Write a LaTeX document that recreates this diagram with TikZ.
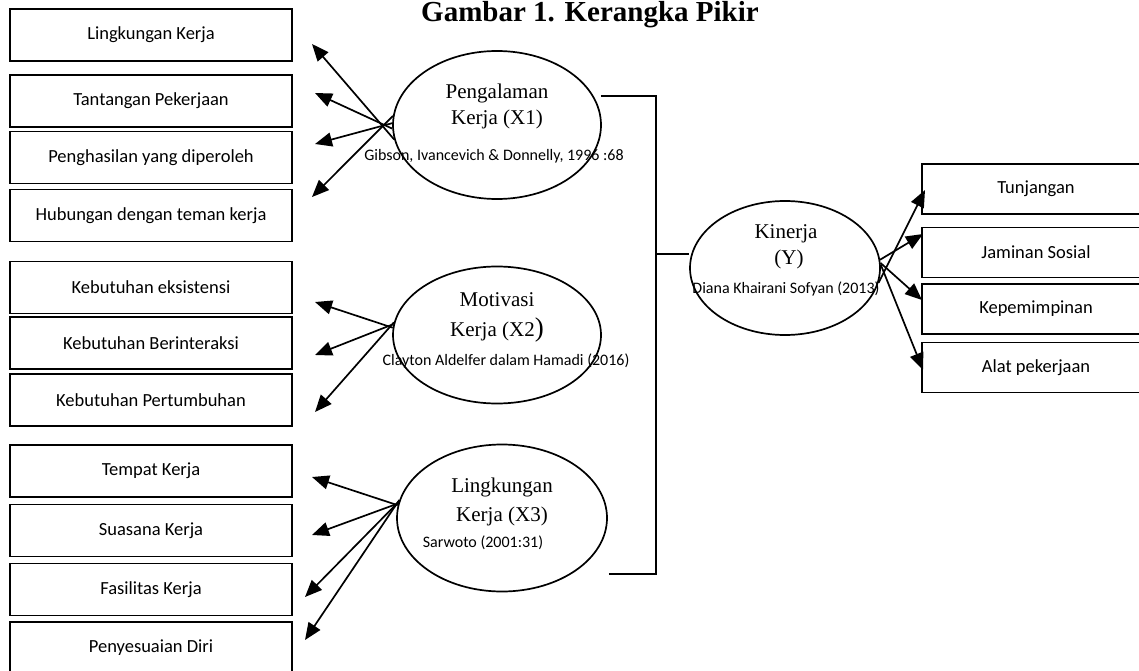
\documentclass[tikz,border=0pt]{standalone}
\usepackage{fontspec}
\setmainfont{Liberation Serif}
\newfontfamily\calibri{Carlito}
\usetikzlibrary{arrows.meta,shapes,calc}

\begin{document}
\begin{tikzpicture}[x=1pt,y=-1pt]
            \tikzset{box/.style = {draw, line width=1.6pt, minimum width=282pt, minimum height=52pt, inner sep=0pt, font=\calibri\fontsize{18.5}{20}\selectfont}}
            \tikzset{rbox/.style = {box, minimum width=228pt, minimum height=50pt}}
            \tikzset{latent/.style = {draw, ellipse, line width=1.7pt, inner sep=0pt}}
            \tikzset{konsep/.style = {font=\fontsize{21}{23}\selectfont, inner sep=0pt}}
            \tikzset{sumber/.style = {font=\calibri\fontsize{16}{18}\selectfont, inner sep=0pt}}
            \tikzset{edge/.style = {line width=1.7pt, -{Triangle[length=17pt,width=14pt]}}}
            \tikzset{garis/.style = {line width=1.7pt}}
            \useasboundingbox (0,0) rectangle (1139,671);

            % title
            \node[font=\bfseries\fontsize{29}{29}\selectfont, anchor=base] (judul) at (590,22) {Gambar 1. Kerangka Pikir};

            % indicator boxes
            \foreach \y/\txt [count=\i] in {35/Lingkungan Kerja, 101/Tantangan Pekerjaan, 157.5/Penghasilan yang diperoleh, 215.5/Hubungan dengan teman kerja, 287.5/Kebutuhan eksistensi, 343/Kebutuhan Berinteraksi, 400/Kebutuhan Pertumbuhan, 471/Tempat Kerja, 530.5/Suasana Kerja, 589.5/Fasilitas Kerja, 648/Penyesuaian Diri}
            {
              \node[box] (b\i) at (151,\y) {\txt};
            }
            \foreach \y/\txt [count=\i] in {189/Tunjangan, 252.5/Jaminan Sosial, 309/Kepemimpinan, 367.5/Alat pekerjaan}
            {
              \node[rbox] (r\i) at (1036,\y) {\txt};
            }

            % variables
            \node[latent, minimum width=208pt, minimum height=148pt] (x1) at (497,125) {};
            \node[latent, minimum width=208pt, minimum height=137pt] (x2) at (497,335) {};
            \node[latent, minimum width=210pt, minimum height=147pt] (x3) at (502,518) {};
            \node[latent, minimum width=190pt, minimum height=134pt] (y) at (785,268) {};

            \node[konsep] (x1a) at (497,93) {Pengalaman};
            \node[konsep] (x1b) at (497,119) {Kerja (X1)};
            \node[sumber] (x1c) at (494,156) {Gibson, Ivancevich \& Donnelly, 1996 :68};
            \node[konsep] (x2a) at (497,300) {Motivasi};
            \node[konsep] (x2b) at (497,330) {Kerja (X2{\fontsize{27}{27}\selectfont )}};
            \node[sumber] (x2c) at (506,361) {Clayton Aldelfer dalam Hamadi (2016)};
            \node[konsep] (x3a) at (502,487) {Lingkungan};
            \node[konsep] (x3b) at (502,516) {Kerja (X3)};
            \node[sumber] (x3c) at (483,543) {Sarwoto (2001:31)};
            \node[konsep] (ya) at (786,234) {Kinerja};
            \node[konsep] (yb) at (789,259) {(Y)};
            \node[sumber] (yc) at (786,289) {Diana Khairani Sofyan (2013)};

            % arrow tips
            \foreach \x/\y [count=\i] in {312/44, 315/93, 315/144, 312/197, 315/302, 315/355, 315/412, 312/477, 312/535, 305/597, 305/640}
            {
              \coordinate (t\i) at (\x,\y);
            }
            \foreach \x/\y [count=\i] in {925/190, 923/234, 922/300, 923/370}
            {
              \coordinate (s\i) at (\x,\y);
            }

            % edges
            \foreach \a/\t in {188/1, 182/2, 179/3, 175/4} {\draw[edge] (x1.\a) to (t\t);}
            \foreach \a/\t in {176/5, 174/6, 173/7} {\draw[edge] (x2.\a) to (t\t);}
            \foreach \a/\t in {173/8, 172/9, 171/10, 170/11} {\draw[edge] (x3.\a) to (t\t);}
            \foreach \a/\t in {351/1, 5/2, 3/3, 2/4} {\draw[edge] (y.\a) to (s\t);}

            % bracket to Y
            \coordinate (j) at (656,254);
            \draw[garis] ($(x1.east)+(-1,-29)$) -| (j);
            \draw[garis] ($(x2.east)+(0,5)$) -- ($(x2.east)+(0,5)$ -| j);
            \draw[garis] ($(x3.east)+(1,56)$) -| (j);
            \draw[garis] (j) -- (j -| y.west);

          \end{tikzpicture}
\end{document}
